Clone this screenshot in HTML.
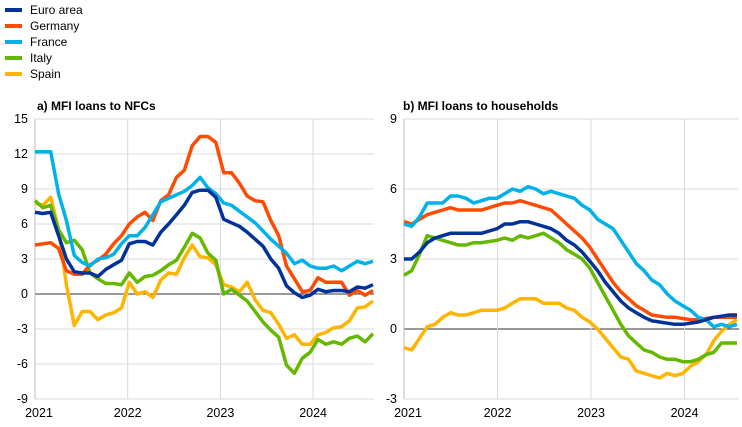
<!DOCTYPE html><html><head><style>body{margin:0;background:#fff}svg{display:block;font-family:"Liberation Sans",sans-serif}</style></head><body>
<svg id="s" width="742" height="427" xmlns="http://www.w3.org/2000/svg">
<g font-size="12" fill="#000">
<line x1="5" y1="10" x2="22" y2="10" stroke="#003299" stroke-width="4"/><text x="30" y="14">Euro area</text>
<line x1="5" y1="26" x2="22" y2="26" stroke="#ff4b00" stroke-width="4"/><text x="30" y="30">Germany</text>
<line x1="5" y1="42" x2="22" y2="42" stroke="#00b1ea" stroke-width="4"/><text x="30" y="46">France</text>
<line x1="5" y1="58" x2="22" y2="58" stroke="#65b800" stroke-width="4"/><text x="30" y="62">Italy</text>
<line x1="5" y1="74" x2="22" y2="74" stroke="#ffb400" stroke-width="4"/><text x="30" y="78">Spain</text>
<text x="37" y="110" font-weight="bold">a) MFI loans to NFCs</text>
<text x="403" y="110" font-weight="bold">b) MFI loans to households</text>
</g>
</svg>
<script>
const S=document.getElementById('s'),NS='http://www.w3.org/2000/svg';
function el(t,a,txt){const e=document.createElementNS(NS,t);for(const k in a)e.setAttribute(k,a[k]);if(txt!=null)e.textContent=txt;S.appendChild(e);return e;}
const C={eu:'#003299',de:'#ff4b00',fr:'#00b1ea',it:'#65b800',es:'#ffb400'};
function chart(o){
 const y=v=>o.yt+(o.max-v)*(o.yb-o.yt)/(o.max-o.min);
 for(let v=o.min;v<=o.max;v+=o.step){
  el('line',{x1:o.x0,x2:o.xe,y1:y(v),y2:y(v),stroke:v==0?'#333':'#d9d9d9','stroke-width':1});
  el('text',{x:o.x0-7,y:y(v)+4,'text-anchor':'end','font-size':12.5},v);
 }
 for(let i=0;i<4;i++){const x=o.x0+i*o.yw;
  el('line',{x1:x,x2:x,y1:o.yt,y2:o.yb,stroke:i==0?'#bbb':'#d9d9d9','stroke-width':1});
  el('text',{x:x+(i==0?4:0),y:o.yb+18,'text-anchor':'middle','font-size':12.5},2021+i);}
 for(const k of ['es','it','de','fr','eu']){const d=o.d[k];
  const pts=d.map((v,i)=>(o.x0+i*(o.end-o.x0)/(d.length-1)).toFixed(1)+','+y(v).toFixed(1)).join(' ');
  el('polyline',{points:pts,fill:'none',stroke:C[k],'stroke-width':3.5,'stroke-linejoin':'round'});}
}
chart({x0:35,xe:374,end:373,yw:92.7,yt:119,yb:399,min:-9,max:15,step:3,d:{
eu:[7.0,6.9,7.0,5,3.0,1.9,1.8,1.8,1.5,2.1,2.5,2.9,4.3,4.5,4.5,4.2,5.3,6.0,6.8,7.6,8.7,8.9,8.9,8.3,6.4,6.1,5.8,5.3,4.7,4.1,3.0,2.2,0.7,0.1,-0.3,-0.1,0.4,0.2,0.3,0.3,0.2,0.6,0.5,0.8],
de:[4.2,4.3,4.4,3.9,2.0,1.7,1.7,2.5,2.9,3.4,4.3,5.0,6.0,6.6,7.0,6.3,8.0,8.5,10.0,10.6,12.7,13.5,13.5,13.0,10.4,10.4,9.5,8.4,8.0,7.9,6.3,5.0,2.4,1.3,0.2,0.3,1.4,1.0,1.0,1.0,-0.1,0.3,-0.1,0.3],
fr:[12.2,12.2,12.2,8.6,6.3,3.3,2.7,2.4,3.0,3.1,3.4,4.3,5.0,5.0,5.7,6.8,7.9,8.2,8.5,8.8,9.3,10.0,9.1,8.6,7.8,7.6,7.1,6.6,6.1,5.4,4.7,4.1,3.5,2.6,2.9,2.4,2.2,2.2,2.4,2.0,2.4,2.8,2.6,2.8],
it:[8.0,7.4,7.6,5.5,4.4,4.6,3.8,1.8,1.3,0.9,0.9,0.8,1.8,1.0,1.5,1.6,2.0,2.5,2.9,4.0,5.2,4.8,3.5,2.9,0,0.4,-0.1,-0.6,-1.5,-2.4,-3.1,-3.7,-6.1,-6.8,-5.5,-5.0,-3.9,-4.3,-4.1,-4.3,-3.8,-3.6,-4.1,-3.4],
es:[7.8,7.6,8.3,5.5,0.8,-2.7,-1.5,-1.5,-2.2,-1.8,-1.6,-1.2,1.0,0,0.2,-0.3,1.2,1.8,1.7,3.1,4.2,3.2,3.1,2.5,0.8,0.6,0.2,1.0,-0.5,-1.4,-1.6,-2.6,-3.8,-3.5,-4.3,-4.3,-3.5,-3.3,-2.9,-2.8,-2.3,-1.2,-1.1,-0.6]}});
chart({x0:404,xe:739,end:737,yw:93.5,yt:119,yb:399,min:-3,max:9,step:3,d:{
fr:[4.5,4.4,4.8,5.4,5.4,5.4,5.7,5.7,5.6,5.4,5.5,5.6,5.6,5.8,6.0,5.9,6.1,6.0,5.8,5.9,5.8,5.7,5.6,5.3,5.1,4.7,4.5,4.3,3.8,3.3,2.8,2.5,2.1,1.9,1.5,1.2,1.0,0.8,0.5,0.4,0.1,0.2,0.1,0.2],
de:[4.6,4.5,4.7,4.9,5.0,5.1,5.2,5.1,5.1,5.1,5.1,5.2,5.3,5.4,5.4,5.5,5.4,5.3,5.2,5.1,4.8,4.5,4.2,3.9,3.5,3.0,2.5,2.0,1.6,1.3,1.0,0.8,0.6,0.55,0.5,0.5,0.45,0.4,0.4,0.45,0.5,0.5,0.5,0.5],
eu:[3.0,3.0,3.3,3.7,3.9,4.0,4.1,4.1,4.1,4.1,4.1,4.2,4.3,4.5,4.5,4.6,4.6,4.5,4.4,4.3,4.1,3.8,3.6,3.3,2.9,2.5,2.0,1.6,1.2,0.9,0.7,0.5,0.35,0.3,0.25,0.2,0.2,0.25,0.3,0.4,0.5,0.55,0.6,0.6],
it:[2.3,2.5,3.2,4.0,3.9,3.8,3.7,3.6,3.6,3.7,3.7,3.75,3.8,3.9,3.8,4.0,3.9,4.0,4.1,3.9,3.7,3.4,3.2,3.0,2.6,2.0,1.4,0.8,0.2,-0.3,-0.6,-0.9,-1.0,-1.2,-1.3,-1.3,-1.4,-1.4,-1.3,-1.1,-1.0,-0.6,-0.6,-0.6],
es:[-0.8,-0.9,-0.4,0.1,0.2,0.5,0.7,0.6,0.6,0.7,0.8,0.8,0.8,0.9,1.1,1.3,1.3,1.3,1.1,1.1,1.1,0.9,0.8,0.5,0.3,0.0,-0.4,-0.8,-1.2,-1.3,-1.8,-1.9,-2.0,-2.1,-1.9,-2.0,-1.9,-1.6,-1.4,-1.1,-0.5,-0.1,0.2,0.4]}});
</script>
</body></html>
